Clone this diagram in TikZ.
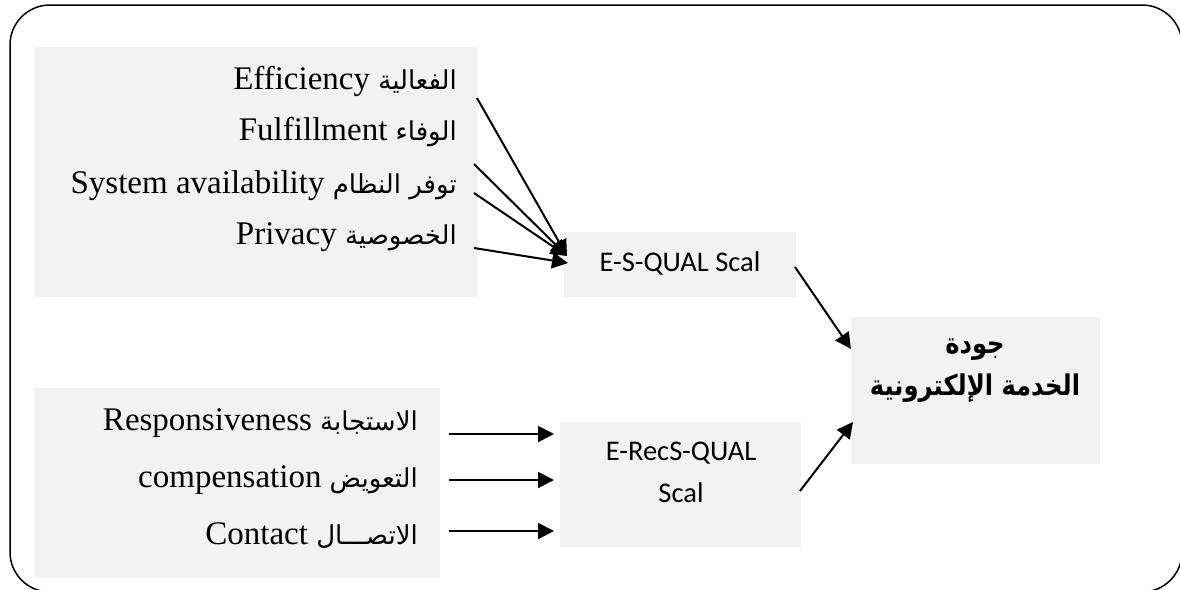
\documentclass[tikz,border=0pt]{standalone}
\usepackage{fontspec}
\setmainfont{Liberation Serif}
\newfontfamily\arabicfont[Script=Arabic]{DejaVu Sans}
\newfontfamily\arabicbold[Script=Arabic,FakeStretch=0.85]{DejaVu Sans Bold}
\newfontfamily\calfont{Carlito}
\TeXXeTstate=1
\usetikzlibrary{arrows.meta}
\definecolor{boxgray}{RGB}{242,242,242}
% Arabic words set right to left in a smaller size
\newcommand\artext[1]{{\arabicfont\fontsize{26}{30}\selectfont\beginR #1\endR}}

\begin{document}
\begin{tikzpicture}[x=1pt,y=-1pt,
  panel/.style={fill=boxgray, draw=none, inner sep=0pt, anchor=north west},
  item/.style={anchor=base east, inner sep=0pt, font=\fontsize{33}{38}\selectfont},
  scale label/.style={anchor=base, font=\calfont\fontsize{28.5}{34}\selectfont, inner sep=0pt},
  quality label/.style={anchor=base, inner sep=0pt, font=\arabicbold\fontsize{28.5}{34}\selectfont},
  link/.style={line width=2pt, -{Triangle[length=16pt,width=16pt]}},
]
\useasboundingbox (0,0) rectangle (1180,589);
\clip (0,0) rectangle (1180,589);

% outer frame
\draw[line width=1.5pt, rounded corners=40pt] (10,5) rectangle (1182,592);

% grey panels
\node[panel, minimum width=444pt, minimum height=250pt] (dimsA) at (34,47) {};
\node[panel, minimum width=406pt, minimum height=190pt] (dimsB) at (34,388) {};
\node[panel, minimum width=232pt, minimum height=65pt] (esq) at (564,232) {};
\node[panel, minimum width=241pt, minimum height=125pt] (erec) at (560,422) {};
\node[panel, minimum width=249pt, minimum height=147pt] (quality) at (851,317) {};

% panel captions
\node[scale label] (esqT) at (680,271) {E-S-QUAL Scal};
\node[scale label] (erecT) at (681,460) {E-RecS-QUAL};
\node[scale label] (erecT2) at (681,502) {Scal};
\node[quality label] (qualityT) at (975,353) {\beginR جودة\endR};
\node[quality label] (qualityT2) at (975,395) {\beginR الخدمة الإلكترونية\endR};

% E-S-QUAL dimensions
\node[item] (eff) at (457,89) {Efficiency \artext{الفعالية}};
\node[item] (ful) at (457,140) {Fulfillment \artext{الوفاء}};
\node[item] (sys) at (457,193) {System availability \artext{توفر النظام}};
\node[item] (pri) at (457,244) {Privacy \artext{الخصوصية}};

% E-RecS-QUAL dimensions
\node[item] (res) at (418,430) {Responsiveness \artext{الاستجابة}};
\node[item] (com) at (418,487) {compensation \artext{التعويض}};
\node[item] (con) at (418,544) {Contact \artext{الاتصـــال}};

% connector ends
\coordinate (effS) at (477,98);
\coordinate (fulS) at (474,164);
\coordinate (sysS) at (474,193);
\coordinate (priS) at (474,248);
\coordinate (esqIn) at (567,256);
\coordinate (esqInB) at (568,263);
\coordinate (resS) at (449,434);
\coordinate (comS) at (449,480);
\coordinate (conS) at (449,531);
\coordinate (resE) at (554,434);
\coordinate (comE) at (554,480);
\coordinate (conE) at (554,531);
\coordinate (esqOut) at (795,267);
\coordinate (erecOut) at (800,491);
\coordinate (qualInA) at (851,349);
\coordinate (qualInB) at (853,422);

% connectors
\draw[link] (effS) -- (esqIn);
\draw[link] (fulS) -- (esqIn);
\draw[link] (sysS) -- (esqIn);
\draw[link] (priS) -- (esqInB);
\draw[link] (resS) -- (resE);
\draw[link] (comS) -- (comE);
\draw[link] (conS) -- (conE);
\draw[link] (esqOut) -- (qualInA);
\draw[link] (erecOut) -- (qualInB);
\end{tikzpicture}
\end{document}
